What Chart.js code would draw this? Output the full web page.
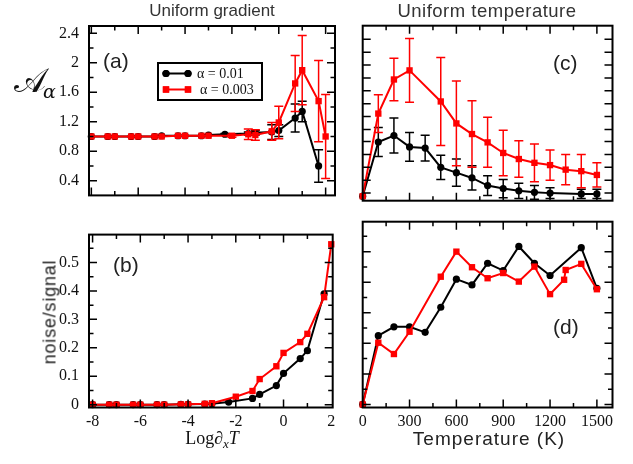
<!DOCTYPE html>
<html>
<head>
<meta charset="utf-8">
<script src="https://cdn.jsdelivr.net/npm/chart.js@4.4.1/dist/chart.umd.min.js"></script>
<style>
  html, body { margin: 0; padding: 0; background: #fff; }
  #wrap { position: relative; width: 633px; height: 464px; overflow: hidden; }
  #wrap canvas { position: absolute; }
  .t { position: absolute; white-space: nowrap; color: #222; font-family: "Liberation Sans", Arial, sans-serif; }
  .title { top: 0; color: #333; transform: translateX(-50%); }
  .plab { font-size: 21px; }
</style>
</head>
<body>
<div id="wrap">
  <canvas id="cA" width="345" height="215" style="left:0;top:0"></canvas>
  <canvas id="cB" width="345" height="249" style="left:0;top:215px"></canvas>
  <canvas id="cC" width="288" height="215" style="left:345px;top:0"></canvas>
  <canvas id="cD" width="288" height="249" style="left:345px;top:215px"></canvas>

  <div class="t title" style="left:212px;font-size:17px;top:1px">Uniform gradient</div>
  <div class="t title" style="left:487px;font-size:18.5px;letter-spacing:0.5px">Uniform temperature</div>
  <div class="t plab" style="left:103px;top:49px">(a)</div>
  <div class="t plab" style="left:113px;top:253px">(b)</div>
  <div class="t plab" style="left:553px;top:51px">(c)</div>
  <div class="t plab" style="left:553px;top:315px">(d)</div>
  <div class="t" style="left:14px;top:60px;font-family:'DejaVu Serif',serif;font-size:34px;color:#111">𝒜<span style="font-size:19px;font-style:italic;vertical-align:-6px;margin-left:-3px">α</span></div>
  <div class="t" style="left:50px;top:312px;font-size:18px;letter-spacing:0.8px;transform:translate(-50%,-50%) rotate(-90deg)">noise/signal</div>
  <div class="t" style="left:212px;top:428px;font-family:'Liberation Serif',serif;font-size:18px;transform:translateX(-50%);color:#111">Log∂<i style="font-size:13px;vertical-align:-4px">x</i><i>T</i></div>
  <div class="t" style="left:489px;top:428px;font-size:19px;letter-spacing:1px;transform:translateX(-50%)">Temperature (K)</div>
</div>

<script>
"use strict";

// ── Data ─────────────────────────────────────────────────────────────────────

const SERIES_LABELS = ["α = 0.01", "α = 0.003"];

// Uniform gradient: x = Log ∂xT
const GRAD_X_BLACK = [-8, -7.3, -7, -6.3, -6, -5.3, -5, -4.3, -4, -3.3, -3, -2.3, -1.3, -1, -0.3, 0, 0.7, 1, 1.7];
const GRAD_X_RED   = [-8, -7.3, -7, -6.3, -6, -5.3, -5, -4.3, -4, -3.3, -3, -2, -1.3, -1, -0.3, 0, 0.7, 1, 1.7, 2];

// (a) A_alpha
const A_BLACK     = [1.0, 1.0, 1.0, 1.0, 1.0, 1.0, 1.01, 1.01, 1.01, 1.01, 1.02, 1.03, 1.04, 1.05, 1.06, 1.08, 1.25, 1.34, 0.6];
const A_BLACK_ERR = [0, 0, 0, 0, 0, 0, 0, 0, 0, 0, 0, 0.01, 0.02, 0.03, 0.1, 0.08, 0.19, 0.14, 0.22];
const A_RED       = [1.0, 1.0, 1.0, 1.0, 1.0, 1.0, 1.0, 1.01, 1.01, 1.01, 1.01, 1.01, 1.03, 1.02, 1.07, 1.19, 1.72, 1.9, 1.48, 1.0];
const A_RED_ERR   = [0, 0, 0, 0, 0, 0, 0, 0, 0, 0, 0, 0.02, 0.07, 0.07, 0.12, 0.22, 0.38, 0.47, 0.55, 0.57];

// (b) noise/signal
const NS_BLACK = [0, 0, 0, 0, 0, 0, 0, 0.001, 0.001, 0.002, 0.003, 0.009, 0.022, 0.036, 0.067, 0.11, 0.162, 0.19, 0.39];
const NS_RED   = [0, 0, 0, 0, 0, 0, 0, 0.001, 0.001, 0.003, 0.005, 0.028, 0.048, 0.09, 0.135, 0.182, 0.22, 0.249, 0.378, 0.564];

// Uniform temperature: x = T (K)
const TEMP_X_BLACK = [0, 100, 200, 300, 400, 500, 600, 700, 800, 900, 1000, 1100, 1200, 1400, 1500];
const TEMP_X_RED_C = [0, 100, 200, 300, 500, 600, 700, 800, 900, 1000, 1100, 1200, 1300, 1400, 1500];
const TEMP_X_RED_D = [0, 100, 200, 300, 500, 600, 700, 800, 900, 1000, 1100, 1200, 1290, 1300, 1400, 1500];

// (c) A_alpha
const C_BLACK     = [0.25, 0.965, 1.05, 0.9, 0.885, 0.63, 0.56, 0.49, 0.39, 0.35, 0.32, 0.3, 0.29, 0.28, 0.28];
const C_BLACK_ERR = [0, 0.19, 0.23, 0.19, 0.17, 0.16, 0.18, 0.16, 0.13, 0.12, 0.1, 0.09, 0.07, 0.06, 0.06];
const C_RED       = [0.25, 1.34, 1.79, 1.91, 1.5, 1.21, 1.07, 0.96, 0.82, 0.74, 0.69, 0.66, 0.6, 0.58, 0.53];
const C_RED_ERR   = [0, 0.25, 0.28, 0.42, 0.58, 0.56, 0.44, 0.33, 0.3, 0.24, 0.25, 0.2, 0.2, 0.22, 0.16];
const C_Y_TICKS   = [0.29, 0.46, 0.63, 0.8, 0.97, 1.13, 1.3, 1.47, 1.64, 1.81, 1.98, 2.15, 2.32];

// (d) noise/signal
const D_BLACK = [0, 0.225, 0.254, 0.254, 0.236, 0.318, 0.41, 0.391, 0.462, 0.438, 0.517, 0.462, 0.422, 0.513, 0.38];
const D_RED   = [0, 0.202, 0.165, 0.238, 0.418, 0.5, 0.449, 0.413, 0.43, 0.402, 0.451, 0.361, 0.408, 0.44, 0.46, 0.377];

// ── Plugins ──────────────────────────────────────────────────────────────────

const near = (v, step) => Math.abs(v / step - Math.round(v / step)) < 1e-6;

// frame + inward tick marks on all four sides
const frameTicks = {
  id: "frameTicks",
  afterDraw(chart, args, opts) {
    const { ctx, chartArea: a, scales } = chart;
    ctx.save();
    ctx.strokeStyle = "#000";
    ctx.lineWidth = 1.5;
    ctx.beginPath();
    scales.x.ticks.forEach((t) => {
      const px = scales.x.getPixelForValue(t.value);
      if (px < a.left + 2 || px > a.right - 2) return;
      const len = opts.xMajor && !near(t.value, opts.xMajor) ? 4.5 : 8;
      ctx.moveTo(px, a.bottom); ctx.lineTo(px, a.bottom - len);
      ctx.moveTo(px, a.top);    ctx.lineTo(px, a.top + len);
    });
    scales.y.ticks.forEach((t) => {
      const py = scales.y.getPixelForValue(t.value);
      if (py < a.top + 2 || py > a.bottom - 2) return;
      const len = opts.yMajor && !near(t.value, opts.yMajor) ? 4.5 : 8;
      ctx.moveTo(a.left, py);  ctx.lineTo(a.left + len, py);
      ctx.moveTo(a.right, py); ctx.lineTo(a.right - len, py);
    });
    ctx.stroke();
    ctx.lineWidth = 2;
    ctx.strokeRect(a.left, a.top, a.right - a.left, a.bottom - a.top);
    ctx.restore();
  },
};

// vertical error bars with caps, read from dataset.errors
const errorBars = {
  id: "errorBars",
  afterDatasetDraw(chart, args) {
    const ds = chart.data.datasets[args.index];
    if (!ds.errors) return;
    const { ctx, chartArea: a } = chart;
    const ys = chart.scales.y;
    ctx.save();
    ctx.beginPath();
    ctx.rect(a.left - 6, a.top, a.right - a.left + 12, a.bottom - a.top);
    ctx.clip();
    ctx.strokeStyle = ds.borderColor;
    ctx.lineWidth = 1.5;
    ctx.beginPath();
    args.meta.data.forEach((pt, i) => {
      const e = ds.errors[i];
      if (!e) return;
      const v = ds.data[i].y;
      const top = ys.getPixelForValue(v + e);
      const bot = ys.getPixelForValue(v - e);
      ctx.moveTo(pt.x, top); ctx.lineTo(pt.x, bot);
      ctx.moveTo(pt.x - 4.5, top); ctx.lineTo(pt.x + 4.5, top);
      ctx.moveTo(pt.x - 4.5, bot); ctx.lineTo(pt.x + 4.5, bot);
    });
    ctx.stroke();
    ctx.restore();
  },
};

// boxed legend inside panel (a)
const boxLegend = {
  id: "boxLegend",
  afterDraw(chart, args, opts) {
    if (!opts.box) return;
    const { ctx } = chart;
    const b = opts.box;
    ctx.save();
    ctx.fillStyle = "#fff";
    ctx.fillRect(b.x, b.y, b.w, b.h);
    ctx.strokeStyle = "#000";
    ctx.lineWidth = 2;
    ctx.strokeRect(b.x, b.y, b.w, b.h);
    chart.data.datasets.forEach((ds, i) => {
      const y = b.y + 10.5 + i * 16;
      ctx.strokeStyle = ds.borderColor;
      ctx.lineWidth = 2;
      ctx.beginPath();
      ctx.moveTo(b.x + 8, y); ctx.lineTo(b.x + 30, y);
      ctx.stroke();
      ctx.fillStyle = ds.borderColor;
      [b.x + 8, b.x + 30].forEach((px) => {
        Chart.helpers.drawPoint(ctx, { pointStyle: ds.pointStyle, radius: ds.pointRadius, borderWidth: 0 }, px, y);
        ctx.fill();
      });
      ctx.fillStyle = "#111";
      ctx.font = "14px 'Liberation Serif', serif";
      ctx.textBaseline = "middle";
      ctx.fillText(ds.label, b.x + 39 + i * 3, y + 0.5);
    });
    ctx.restore();
  },
};

// ── Panels ───────────────────────────────────────────────────────────────────

function series(xs, ys, errs, color, style, label, order) {
  return {
    label,
    order,
    data: xs.map((x, i) => ({ x, y: ys[i] })),
    errors: errs,
    borderColor: color,
    backgroundColor: color,
    borderWidth: 2,
    pointStyle: style,
    pointRadius: style === "rect" ? 4.5 : 3.6,
    pointBorderWidth: 0,
    tension: 0,
    clip: false,
  };
}

const tickFont = { family: "'Liberation Serif', serif", size: 16 };
const fmtTick = (v) => String(Math.round(v * 10) / 10);

function panel(id, p) {
  return new Chart(document.getElementById(id), {
    type: "line",
    data: { datasets: p.datasets },
    options: {
      responsive: false,
      animation: false,
      events: [],
      layout: { padding: p.pad },
      plugins: {
        legend: { display: false },
        tooltip: { enabled: false },
        frameTicks: p.frame,
        boxLegend: p.legend || {},
      },
      scales: {
        x: {
          type: "linear",
          min: p.x.min, max: p.x.max,
          grid: { display: false, drawTicks: false },
          border: { display: false },
          ticks: {
            display: !!p.x.label,
            stepSize: p.x.step,
            includeBounds: false,
            autoSkip: false, maxRotation: 0,
            padding: 5,
            color: "#111",
            font: tickFont,
            callback: (v) => (p.x.label && near(v, p.x.label) ? fmtTick(v) : ""),
          },
          afterFit: (s) => { s.height = p.xh; },
        },
        y: {
          type: "linear",
          min: p.y.min, max: p.y.max,
          grid: { display: false, drawTicks: false },
          border: { display: false },
          ticks: {
            display: !!p.y.label,
            stepSize: p.y.step,
            includeBounds: false,
            autoSkip: false,
            padding: 10,
            color: "#111",
            font: tickFont,
            callback: (v) => (p.y.label && near(v, p.y.label) && v >= p.y.label - 1e-9 || (p.y.label && v === 0)
              ? fmtTick(v) : ""),
          },
          afterBuildTicks: p.y.ticks ? (s) => { s.ticks = p.y.ticks.map((v) => ({ value: v })); } : undefined,
          afterFit: (s) => { s.width = p.yw; },
        },
      },
    },
    plugins: [frameTicks, errorBars, boxLegend],
  });
}

panel("cA", {
  datasets: [
    series(GRAD_X_BLACK, A_BLACK, A_BLACK_ERR, "#000000", "circle", SERIES_LABELS[0], 1),
    series(GRAD_X_RED, A_RED, A_RED_ERR, "#ff0000", "rect", SERIES_LABELS[1], 0),
  ],
  pad: { left: 0, top: 26, right: 10, bottom: 0 },
  xh: 15, yw: 89,
  x: { min: -8.1, max: 2.4, step: 1 },
  y: { min: 0.2, max: 2.5, step: 0.2, label: 0.4 },
  frame: { xMajor: 2, yMajor: 0.4 },
  legend: { box: { x: 158, y: 63, w: 104, h: 37 } },
});

panel("cB", {
  datasets: [
    series(GRAD_X_BLACK, NS_BLACK, null, "#000000", "circle", SERIES_LABELS[0], 1),
    series(GRAD_X_RED, NS_RED, null, "#ff0000", "rect", SERIES_LABELS[1], 0),
  ],
  pad: { left: 0, top: 6.7, right: 12.3, bottom: 0 },
  xh: 56.5, yw: 89,
  x: { min: -8.15, max: 2.06, step: 1, label: 2 },
  y: { min: -0.01, max: 0.598, step: 0.05, label: 0.1 },
  frame: { xMajor: 2, yMajor: 0.1 },
});

panel("cC", {
  datasets: [
    series(TEMP_X_BLACK, C_BLACK, C_BLACK_ERR, "#000000", "circle", SERIES_LABELS[0], 1),
    series(TEMP_X_RED_C, C_RED, C_RED_ERR, "#ff0000", "rect", SERIES_LABELS[1], 0),
  ],
  pad: { left: 0, top: 25.7, right: 20.5, bottom: 0 },
  xh: 14.3, yw: 17.7,
  x: { min: 0, max: 1600, step: 150 },
  y: { min: 0.19, max: 2.5, ticks: C_Y_TICKS },
  frame: { xMajor: 300, yMajor: null },
});

panel("cD", {
  datasets: [
    series(TEMP_X_BLACK, D_BLACK, null, "#000000", "circle", SERIES_LABELS[0], 1),
    series(TEMP_X_RED_D, D_RED, null, "#ff0000", "rect", SERIES_LABELS[1], 0),
  ],
  pad: { left: 0, top: 6.7, right: 20.5, bottom: 0 },
  xh: 56.5, yw: 17.7,
  x: { min: 0, max: 1600, step: 150, label: 300 },
  y: { min: -0.01, max: 0.598, step: 0.05 },
  frame: { xMajor: 300, yMajor: 0.1 },
});
</script>
</body>
</html>
